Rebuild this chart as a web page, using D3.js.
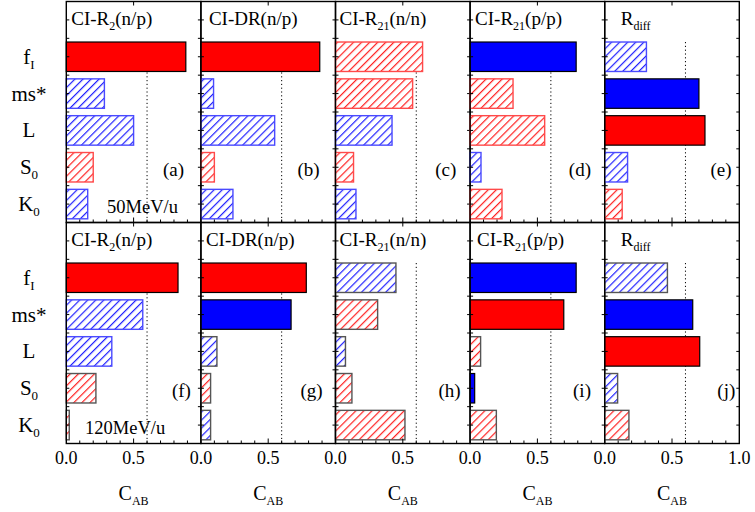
<!DOCTYPE html>
<html>
<head>
<meta charset="utf-8">
<script src="https://cdn.jsdelivr.net/npm/d3@7/dist/d3.min.js"></script>
<style>
  body { margin: 0; background: #fff; }
  text { font-family: "Liberation Serif", "Times New Roman", serif; fill: #000; }
</style>
</head>
<body>
<div id="chart"></div>
<script>
// categories (label, subscript)
var categories = [["f", "I"], ["ms*", ""], ["L", ""], ["S", "0"], ["K", "0"]];

// panel titles: [main, subscript, tail]
var panelTitles = [
  ["CI-R", "2", "(n/p)"],
  ["CI-DR(n/p)", "", ""],
  ["CI-R", "21", "(n/n)"],
  ["CI-R", "21", "(p/p)"],
  ["R", "diff", ""]
];
var panelLetters = [["(a)", "(b)", "(c)", "(d)", "(e)"], ["(f)", "(g)", "(h)", "(i)", "(j)"]];
var energies = ["50MeV/u", "120MeV/u"];

// C_AB values, one array per panel, order f_I, ms*, L, S0, K0
var cab50 = [
  [0.888, 0.283, 0.50, 0.20, 0.159],
  [0.883, 0.094, 0.548, 0.10, 0.238],
  [0.647, 0.573, 0.42, 0.134, 0.152],
  [0.788, 0.319, 0.554, 0.081, 0.237],
  [0.31, 0.70, 0.745, 0.17, 0.13]
];
var cab120 = [
  [0.83, 0.568, 0.338, 0.22, 0.022],
  [0.783, 0.67, 0.119, 0.072, 0.072],
  [0.449, 0.313, 0.074, 0.122, 0.516],
  [0.788, 0.696, 0.078, 0.034, 0.195],
  [0.466, 0.654, 0.706, 0.096, 0.18]
];
// sign of correlation: 1 = red, -1 = blue
var sign50 = [
  [1, -1, -1, 1, -1],
  [1, -1, -1, 1, -1],
  [1, 1, -1, 1, -1],
  [-1, 1, 1, -1, 1],
  [-1, -1, 1, -1, 1]
];
var sign120 = [
  [1, -1, -1, 1, 1],
  [1, -1, -1, 1, -1],
  [-1, 1, -1, 1, 1],
  [-1, 1, 1, -1, 1],
  [-1, -1, 1, -1, 1]
];
// strong correlation (solid bar) flags
var strong50 = [
  [1, 0, 0, 0, 0],
  [1, 0, 0, 0, 0],
  [0, 0, 0, 0, 0],
  [1, 0, 0, 0, 0],
  [0, 1, 1, 0, 0]
];
var strong120 = [
  [1, 0, 0, 0, 0],
  [1, 1, 0, 0, 0],
  [0, 0, 0, 0, 0],
  [1, 1, 0, 1, 0],
  [0, 1, 1, 0, 0]
];
var threshold = 0.6;
var xTicks = ["0.0", "0.5"];

var rows = [
  { vals: cab50, sign: sign50, strong: strong50 },
  { vals: cab120, sign: sign120, strong: strong120 }
];

var W = 755, H = 512;
var x0 = 66.3, pw = 134.6;
var rowTop = [1.5, 222.5], rowH = 221;
var titleDx = [[5, 8, 4, 5, 16], [5, 5, 4, 7, 16]];
var letterX = [[0.875, 0.882, 0.897, 0.898, 0.943], [0.926, 0.904, 0.93, 0.898, 0.97]];

var svg = d3.select("#chart").append("svg").attr("width", W).attr("height", H);

var defs = svg.append("defs");
function hatch(id, color) {
  var s = 5.7;
  var p = defs.append("pattern")
    .attr("id", id)
    .attr("patternUnits", "userSpaceOnUse")
    .attr("width", s).attr("height", s)
    .attr("patternTransform", "rotate(45)");
  p.append("rect").attr("width", s).attr("height", s).attr("fill", "#fff");
  p.append("line").attr("x1", 0).attr("y1", 0).attr("x2", 0).attr("y2", s)
    .attr("stroke", color).attr("stroke-width", 2.4);
}
hatch("hr", "#ff1f1f");
hatch("hb", "#1f1fff");

function addSub(t, main, sub, tail, subSize) {
  t.append("tspan").text(main);
  if (sub) t.append("tspan").attr("dy", 5).attr("font-size", subSize).text(sub);
  if (tail) t.append("tspan").attr("dy", -5).text(tail);
}

rows.forEach(function (row, r) {
  var top = rowTop[r];
  var y = d3.scaleLinear().domain([-0.5, 5.5]).range([top, top + rowH]);

  // category labels on the left
  categories.forEach(function (c, i) {
    var t = svg.append("text")
      .attr("x", 29).attr("y", y(i + 1) + 7)
      .attr("text-anchor", "middle")
      .attr("font-size", 21);
    addSub(t, c[0], c[1], "", 13);
  });

  row.vals.forEach(function (vals, p) {
    var left = x0 + p * pw;
    var x = d3.scaleLinear().domain([0, 1]).range([left, left + pw]);
    var g = svg.append("g");

    // threshold dotted line
    g.append("line")
      .attr("x1", x(threshold)).attr("x2", x(threshold))
      .attr("y1", y(0.6)).attr("y2", y(5.5))
      .attr("stroke", "#000").attr("stroke-width", 1)
      .attr("stroke-dasharray", "1.2,2.6");

    // bars
    g.selectAll("rect.bar")
      .data(vals.map(function (v, i) {
        return { v: v, i: i, s: row.sign[p][i], st: row.strong[p][i] };
      }))
      .join("rect")
      .attr("class", "bar")
      .attr("x", x(0))
      .attr("y", function (d) { return y(d.i + 1 - 0.4); })
      .attr("width", function (d) { return x(d.v) - x(0); })
      .attr("height", function (d) { return y(0.8) - y(0); })
      .attr("fill", function (d) {
        if (d.st) return d.s > 0 ? "#ff0000" : "#0000ff";
        return d.s > 0 ? "url(#hr)" : "url(#hb)";
      })
      .attr("stroke", function (d) {
        if (d.st) return "#000";
        if (r == 1 && !(p == 0 && d.s < 0)) return "#555";
        return d.s > 0 ? "#ff4a4a" : "#4a4aff";
      })
      .attr("stroke-width", function (d) { return d.st ? 1.2 : 1.4; });

    // frame
    g.append("rect")
      .attr("x", left).attr("y", top)
      .attr("width", pw).attr("height", rowH)
      .attr("fill", "none").attr("stroke", "#000").attr("stroke-width", 1.4);

    // y ticks (inward on both sides)
    d3.range(0, 5.01, 0.5).forEach(function (k) {
      g.append("line").attr("x1", left).attr("x2", left + 3)
        .attr("y1", y(k)).attr("y2", y(k)).attr("stroke", "#000");
      g.append("line").attr("x1", left + pw - 3).attr("x2", left + pw)
        .attr("y1", y(k)).attr("y2", y(k)).attr("stroke", "#000");
    });
    // x ticks bottom (minor 0.1, major 0.5) and top majors
    d3.range(0.1, 0.95, 0.1).forEach(function (v) {
      var major = Math.abs(v - 0.5) < 1e-6;
      g.append("line").attr("x1", x(v)).attr("x2", x(v))
        .attr("y1", top + rowH).attr("y2", top + rowH - (major ? 5 : 3))
        .attr("stroke", "#000");
      if (major) {
        g.append("line").attr("x1", x(v)).attr("x2", x(v))
          .attr("y1", top).attr("y2", top + 4).attr("stroke", "#000");
      }
    });

    // panel title
    var tt = g.append("text")
      .attr("x", left + titleDx[r][p]).attr("y", top + 23.5)
      .attr("font-size", 19);
    var pt = panelTitles[p];
    addSub(tt, pt[0], pt[1], pt[2], 12);

    // panel letter
    g.append("text")
      .attr("x", x(letterX[r][p])).attr("y", y(4) + 9)
      .attr("text-anchor", "end").attr("font-size", 19)
      .text(panelLetters[r][p]);

    if (p == 0) {
      g.append("text")
        .attr("x", r == 0 ? 107 : 85).attr("y", y(5) + 9)
        .attr("font-size", 18.5)
        .text(energies[r]);
    }

    // bottom axis labels
    if (r == 1) {
      xTicks.forEach(function (lab, k) {
        g.append("text").attr("x", x(k * 0.5)).attr("y", 464)
          .attr("text-anchor", "middle").attr("font-size", 18).text(lab);
      });
      if (p == 4) {
        g.append("text").attr("x", x(1)).attr("y", 464)
          .attr("text-anchor", "middle").attr("font-size", 18).text("1.0");
      }
      var ct = g.append("text").attr("x", x(0.5)).attr("y", 500)
        .attr("text-anchor", "middle").attr("font-size", 20);
      addSub(ct, "C", "AB", "", 12);
    }
  });
});
</script>
</body>
</html>
